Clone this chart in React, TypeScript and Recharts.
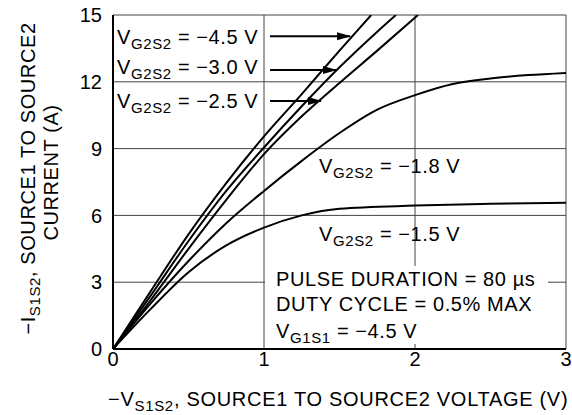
import { LineChart, Line, XAxis, YAxis, CartesianGrid, ReferenceLine, Customized } from "recharts";

// -V_S1S2 (V) and -I_S1S2 (A) for each V_G2S2
const vds45 = [0, 0.25, 0.5, 0.75, 1, 1.25, 1.5, 1.71];
const ids45 = [0, 2.6, 5.15, 7.45, 9.55, 11.45, 13.4, 15];

const vds30 = [0, 0.25, 0.5, 0.75, 1, 1.25, 1.5, 1.75, 1.874];
const ids30 = [0, 2.4, 4.85, 7.1, 9.05, 10.9, 12.65, 14.25, 15];

const vds25 = [0, 0.25, 0.5, 0.75, 1, 1.25, 1.5, 1.75, 2.02];
const ids25 = [0, 2.2, 4.5, 6.7, 8.75, 10.45, 11.95, 13.4, 15];

const vds18 = [0, 0.25, 0.5, 0.75, 1, 1.25, 1.5, 1.75, 2, 2.25, 2.5, 2.75, 3];
const ids18 = [0, 2.05, 3.95, 5.65, 7.1, 8.45, 9.7, 10.75, 11.4, 11.9, 12.15, 12.3, 12.4];

const vds15 = [0, 0.25, 0.5, 0.75, 1, 1.25, 1.5, 2, 2.5, 3];
const ids15 = [0, 1.8, 3.45, 4.65, 5.45, 6.0, 6.3, 6.44, 6.52, 6.57];

const xTicks = [0, 1, 2, 3];
const yTicks = [0, 3, 6, 9, 12, 15];

// arrows from the labels to the curves: [current, start voltage, tip voltage]
const arrowRows = [
  [14.05, 1.04, 1.57],
  [12.53, 1.04, 1.477],
  [11.14, 1.04, 1.377],
];

const toPoints = (vs: number[], is: number[]) => vs.map((v, k) => ({ v, i: is[k] }));

const FONT = "'Liberation Sans', Arial, Helvetica, sans-serif";

const Sub = ({ x, y, pre, sub, post }: { x: number; y: number; pre: string; sub: string; post: string }) => (
  <text x={x} y={y} fontSize={20} fontFamily={FONT} fill="#000" letterSpacing={0.6}>
    {pre}
    <tspan fontSize={15} dy={5}>{sub}</tspan>
    <tspan dy={-5}>{post}</tspan>
  </text>
);

const Annotations = () => (
  <g>
    <defs>
      <marker id="tip" markerUnits="userSpaceOnUse" markerWidth={14} markerHeight={10} refX={13} refY={5} orient="auto">
        <path d="M0,1 L14,5 L0,9 Z" fill="#000" />
      </marker>
    </defs>
    <Sub x={117} y={43.5} pre="V" sub="G2S2" post=" = −4.5 V" />
    <Sub x={117} y={74} pre="V" sub="G2S2" post=" = −3.0 V" />
    <Sub x={117} y={107.5} pre="V" sub="G2S2" post=" = −2.5 V" />
    <Sub x={319} y={173.3} pre="V" sub="G2S2" post=" = −1.8 V" />
    <Sub x={319} y={241} pre="V" sub="G2S2" post=" = −1.5 V" />

    <rect x={265} y={266} width={283} height={78} fill="#fff" />
    <text x={276} y={286} fontSize={20} fontFamily={FONT} letterSpacing={0.6}>PULSE DURATION = 80 µs</text>
    <text x={276} y={311} fontSize={20} fontFamily={FONT} letterSpacing={0.6}>DUTY CYCLE = 0.5% MAX</text>
    <Sub x={276} y={337.5} pre="V" sub="G1S1" post=" = −4.5 V" />

    <text x={108} y={405.5} fontSize={20} fontFamily={FONT} letterSpacing={0.7}>
      −V<tspan fontSize={15} dy={5}>S1S2</tspan>
      <tspan dy={-5}>, SOURCE1 TO SOURCE2 VOLTAGE (V)</tspan>
    </text>
    <text x={35} y={178.5} transform="rotate(-90 35 178.5)" textAnchor="middle" fontSize={20} fontFamily={FONT} letterSpacing={0.6}>
      −I<tspan fontSize={15} dy={5}>S1S2</tspan>
      <tspan dy={-5}>, SOURCE1 TO SOURCE2</tspan>
    </text>
    <text x={58} y={172.5} transform="rotate(-90 58 172.5)" textAnchor="middle" fontSize={20} fontFamily={FONT} letterSpacing={0.6}>
      CURRENT (A)
    </text>
  </g>
);

const curves = [
  toPoints(vds45, ids45),
  toPoints(vds30, ids30),
  toPoints(vds25, ids25),
  toPoints(vds18, ids18),
  toPoints(vds15, ids15),
];

export default function App() {
  return (
    <div style={{ position: "absolute", left: 0, top: 0, background: "#fff" }}>
      <LineChart width={572} height={415} margin={{ top: 15, right: 6, left: 0, bottom: 36 }}>
        <CartesianGrid stroke="#444" strokeWidth={1} />
        <XAxis
          type="number"
          dataKey="v"
          domain={[0, 3]}
          ticks={xTicks}
          height={30}
          allowDataOverflow
          axisLine={{ stroke: "#000", strokeWidth: 2 }}
          tickLine={false}
          tickSize={3}
          tickMargin={0}
          tick={{ fill: "#000", fontSize: 20, fontFamily: FONT }}
        />
        <YAxis
          type="number"
          dataKey="i"
          width={113}
          domain={[0, 15]}
          ticks={yTicks}
          allowDataOverflow
          axisLine={{ stroke: "#000", strokeWidth: 2 }}
          tickLine={false}
          tickMargin={5}
          tick={{ fill: "#000", fontSize: 20, fontFamily: FONT }}
        />
        {arrowRows.map(([i, v0, v1], k) => (
          <ReferenceLine
            key={k}
            segment={[{ x: v0, y: i }, { x: v1, y: i }]}
            stroke="#000"
            strokeWidth={2}
            markerEnd="url(#tip)"
          />
        ))}
        {curves.map((d, k) => (
          <Line
            key={k}
            data={d}
            dataKey="i"
            type="monotone"
            stroke="#000"
            strokeWidth={2}
            dot={false}
            activeDot={false}
            isAnimationActive={false}
          />
        ))}
        <Customized component={Annotations} />
      </LineChart>
    </div>
  );
}
